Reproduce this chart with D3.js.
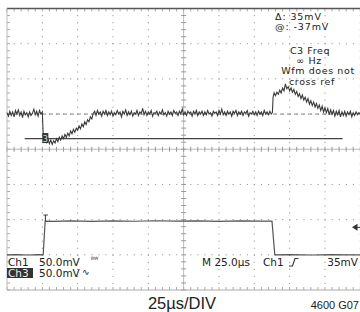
<!DOCTYPE html>
<html>
<head>
<meta charset="utf-8">
<script src="https://cdn.jsdelivr.net/npm/d3@7"></script>
<style>
  body { margin: 0; background: #fff; }
  svg { display: block; }
  .scope { font-family: "DejaVu Sans", sans-serif; font-size: 10.5px; fill: #222; }
  .caption { font-family: "Liberation Sans Narrow", "Liberation Sans", sans-serif; fill: #222; }
</style>
</head>
<body>
<div id="chart"></div>
<script>
// time in µs (25µs/div, trigger at t=0), channel values in mV (50mV/div)
const timeDivs = [-25, 0, 25, 50, 75, 100, 125, 150, 175, 200, 225];
const voltDivs = [-4, -3, -2, -1, 0, 1, 2, 3, 4];

// Ch3: output voltage, AC coupled, drawn around its reference line
const ch3Trace = [
  [-25, 2], [-24, -3], [-23, 4], [-22, -2], [-21, 3], [-20, -4], [-19, 5], [-18, 0], [-17, 6],
  [-16, -2], [-15, 3], [-14, -5], [-13, 4], [-12, -1], [-11, 2], [-10, -4], [-9, 3], [-8, -2],
  [-7, 1], [-6, 7], [-5, -1], [-4, 4], [-3, -3], [-2, 5], [-1, 0], [0, 3],
  [0.6, -30], [1.3, -38], [2, -33], [3, -40], [4, -35], [5, -42], [6, -37], [7, -43], [8, -38],
  [9, -41], [10, -35], [11, -39], [12, -33], [13, -37], [14, -31], [15, -35], [16, -29], [17, -33],
  [18, -27], [19, -31], [20, -24], [21, -28], [22, -22], [23, -26], [24, -20], [25, -23], [26, -17],
  [27, -21], [28, -14], [29, -18], [30, -11], [31, -15], [32, -8], [33, -11], [34, -4], [35, -7],
  [36, 1], [37, 4], [38, -2], [39, 5], [40, 0], [41, 3], [42, -3], [43, 4], [44, 0], [45, 5],
  [46, -2], [47, 3], [48, -1], [49, 4], [50, -3], [51, 2], [52, -1], [53, 5], [54, 0], [55, 3],
  [56, -4], [57, 4], [58, 0], [59, 6], [60, -2], [61, 3], [62, -1], [63, 4], [64, -3], [65, 2],
  [66, 0], [67, 5], [68, -2], [69, 3], [70, 1], [71, 8], [72, -1], [73, 4], [74, -2], [75, 3],
  [76, 0], [77, 5], [78, -3], [79, 2], [80, 1], [81, 4], [82, -2], [83, 3], [84, 0], [85, 6],
  [86, -1], [87, 2], [88, -3], [89, 4], [90, 0], [91, 3], [92, -2], [93, 5], [94, 1], [95, 3],
  [96, -2], [97, 4], [98, 0], [99, 7], [100, -1], [101, 3], [102, -2], [103, 4], [104, 1], [105, 3],
  [106, -3], [107, 4], [108, 0], [109, 5], [110, -2], [111, 3], [112, 0], [113, 4], [114, -2],
  [115, 3], [116, -1], [117, 5], [118, 0], [119, 2], [120, -3], [121, 4], [122, 1], [123, 3],
  [124, -2], [125, 5], [126, 0], [127, 7], [128, -1], [129, 3], [130, -2], [131, 4], [132, 0],
  [133, 3], [134, -3], [135, 4], [136, 1], [137, 5], [138, -2], [139, 3], [140, 0], [141, 4],
  [142, -2], [143, 3], [144, 1], [145, 5], [146, -3], [147, 2], [148, 0], [149, 4], [150, -1],
  [151, 3], [152, -2], [153, 4], [154, 0], [155, 3], [156, -2], [157, 5], [158, 0], [159, 3],
  [160, -1], [161, 4], [162, 0], [162.8, 2],
  [163.3, 24], [164, 30], [165, 26], [166, 31], [167, 28], [168, 34], [169, 30], [170, 37],
  [171, 33], [172, 43], [173, 36], [174, 39], [175, 33], [176, 37], [177, 31], [178, 35],
  [179, 28], [180, 32], [181, 25], [182, 29], [183, 22], [184, 27], [185, 20], [186, 24],
  [187, 17], [188, 22], [189, 14], [190, 19], [191, 12], [192, 17], [193, 10], [194, 15],
  [195, 8], [196, 13], [197, 5], [198, 11], [199, 3], [200, 9], [201, 2], [202, 8], [203, -1],
  [204, 6], [205, 0], [206, 5], [207, -3], [208, 4], [209, -1], [210, 5], [211, -4], [212, 3],
  [213, -2], [214, 4], [215, -3], [216, 3], [217, -1], [218, 4], [219, -4], [220, 2], [221, -2],
  [222, 3], [223, -1], [224, 2], [225, 0]
];

// Ch1: load step, DC coupled
const ch1Trace = [
  [-25, 0], [-18, 0.4], [-10, -0.3], [-3, 0.3], [0.6, 0], [2, 48], [8, 47.4], [20, 48.3],
  [35, 47.6], [50, 48.2], [65, 47.7], [80, 48.4], [95, 47.8], [110, 48.3], [125, 47.6],
  [140, 48.2], [155, 47.8], [162.5, 48], [164.5, 0], [175, 0.3], [190, -0.3], [205, 0.4],
  [215, -0.2], [225, 0]
];

const ch3Pos = 1, ch1Pos = -3, mvPerDiv = 50;
const cursorLevel = -35;          // mV on Ch3
const cursorSpan = [-12.5, 212.5]; // µs
const trigArrowLevel = 39;        // mV on Ch1

const readoutTop = ['\u0394: 35mV', '@: -37mV'];
const measLines = ['C3 Freq', '\u221E Hz', 'Wfm does not', 'cross ref'];
const measX = [310, 309, 318, 312];

const W = 360, H = 312;
const svg = d3.select('#chart').append('svg')
  .attr('width', W).attr('height', H);

const x = d3.scaleLinear().domain([-25, 225]).range([7, 360.3]);
const y = d3.scaleLinear().domain([-4, 4]).range([290, 8.5]);
const y3 = v => y(ch3Pos + v / mvPerDiv);
const y1 = v => y(ch1Pos + v / mvPerDiv);

let grid = svg.append('g');

// dotted graticule
grid.selectAll('line.vg').data(timeDivs.filter(d => d !== 100 && d !== -25))
  .join('line').attr('class', 'vg')
  .attr('x1', d => x(d)).attr('x2', d => x(d))
  .attr('y1', y(4)).attr('y2', y(-4))
  .attr('stroke', '#999').attr('stroke-width', 1)
  .attr('stroke-dasharray', '1.2,5.85').attr('stroke-dashoffset', -6.5);

grid.selectAll('line.hg').data(voltDivs.filter(d => d !== 0 && d !== 4 && d !== -4))
  .join('line').attr('class', 'hg')
  .attr('x1', x(-25)).attr('x2', x(225))
  .attr('y1', d => y(d)).attr('y2', d => y(d))
  .attr('stroke', '#999').attr('stroke-width', 1)
  .attr('stroke-dasharray', '1.2,5.87').attr('stroke-dashoffset', -6.5);

// centre axes with minor ticks
grid.append('line')
  .attr('x1', x(-25)).attr('x2', x(225)).attr('y1', y(0)).attr('y2', y(0))
  .attr('stroke', '#bbb');
grid.append('line')
  .attr('x1', x(100)).attr('x2', x(100)).attr('y1', y(4)).attr('y2', y(-4))
  .attr('stroke', '#bbb');

const minorT = d3.range(-25, 225.1, 5);
const minorV = d3.range(-4, 4.01, 0.2);

grid.selectAll('line.mt').data(minorT)
  .join('line').attr('class', 'mt')
  .attr('x1', d => x(d)).attr('x2', d => x(d))
  .attr('y1', y(0) - 2.5).attr('y2', y(0) + 2.5)
  .attr('stroke', '#999');
grid.selectAll('line.mv').data(minorV)
  .join('line').attr('class', 'mv')
  .attr('x1', x(100) - 2.5).attr('x2', x(100) + 2.5)
  .attr('y1', d => y(d)).attr('y2', d => y(d))
  .attr('stroke', '#999');

// border ticks
grid.selectAll('line.bt').data(minorT)
  .join('line').attr('class', 'bt')
  .attr('x1', d => x(d)).attr('x2', d => x(d))
  .attr('y1', y(-4) - 3).attr('y2', y(-4))
  .attr('stroke', '#aaa');
grid.selectAll('line.tt').data(minorT)
  .join('line').attr('class', 'tt')
  .attr('x1', d => x(d)).attr('x2', d => x(d))
  .attr('y1', y(4)).attr('y2', y(4) + 3)
  .attr('stroke', '#aaa');
grid.selectAll('line.lt').data(minorV)
  .join('line').attr('class', 'lt')
  .attr('x1', x(-25)).attr('x2', x(-25) + 3)
  .attr('y1', d => y(d)).attr('y2', d => y(d))
  .attr('stroke', '#aaa');

// frame
grid.append('line')
  .attr('x1', x(-25)).attr('x2', W).attr('y1', y(4)).attr('y2', y(4))
  .attr('stroke', '#555').attr('stroke-width', 1.5);
grid.append('line')
  .attr('x1', x(-25)).attr('x2', W).attr('y1', y(-4)).attr('y2', y(-4))
  .attr('stroke', '#aaa');
grid.append('line')
  .attr('x1', x(-25)).attr('x2', x(-25)).attr('y1', y(4)).attr('y2', y(-4))
  .attr('stroke', '#bbb');

// Ch3 reference line
grid.append('line')
  .attr('x1', x(-25)).attr('x2', x(225)).attr('y1', y3(0)).attr('y2', y3(0))
  .attr('stroke', '#888').attr('stroke-dasharray', '4,3');

let plot = svg.append('g');

// cursor
plot.append('line')
  .attr('x1', x(cursorSpan[0])).attr('x2', x(cursorSpan[1]))
  .attr('y1', y3(cursorLevel)).attr('y2', y3(cursorLevel))
  .attr('stroke', '#444').attr('stroke-width', 1.2);

const line3 = d3.line().x(d => x(d[0])).y(d => y3(d[1]));
const line1 = d3.line().x(d => x(d[0])).y(d => y1(d[1]));

plot.append('path').datum(ch3Trace)
  .attr('d', line3).attr('fill', 'none')
  .attr('stroke', '#3a3a3a').attr('stroke-width', 1.1);

plot.append('path').datum(ch1Trace)
  .attr('d', line1).attr('fill', 'none')
  .attr('stroke', '#555').attr('stroke-width', 1.2);

// Ch3 marker box
plot.append('rect')
  .attr('x', x(0)).attr('y', y3(-27)).attr('width', 6).attr('height', 10)
  .attr('fill', '#333');
plot.append('text')
  .attr('x', x(0) + 3).attr('y', y3(-27) + 8.5)
  .attr('text-anchor', 'middle').attr('fill', '#ddd')
  .style('font', '8px "DejaVu Sans", sans-serif').text('3');

// trigger "T" marker on Ch1 edge
const tx = x(2.2), ty = y1(48);
plot.append('path')
  .attr('d', `M${tx - 2},${ty - 6}H${tx + 2.5}M${tx},${ty - 6}V${ty}`)
  .attr('stroke', '#444').attr('stroke-width', 1.1).attr('fill', 'none');

// trigger level arrow on right
const ay = y1(trigArrowLevel);
plot.append('path')
  .attr('d', `M352,${ay}L357.5,${ay - 3.5}V${ay + 3.5}Z`)
  .attr('fill', '#333');
plot.append('line')
  .attr('x1', 357).attr('x2', 360).attr('y1', ay).attr('y2', ay)
  .attr('stroke', '#333');

// readouts
let txt = svg.append('g').attr('class', 'scope');

txt.selectAll('text.ro').data(readoutTop)
  .join('text').attr('class', 'ro')
  .attr('x', 275).attr('y', (d, i) => 19.5 + i * 10.5)
  .style('font-size', '9.5px')
  .style('letter-spacing', '0.9px')
  .text(d => d);

txt.selectAll('text.meas').data(measLines)
  .join('text').attr('class', 'meas')
  .attr('x', (d, i) => measX[i]).attr('y', (d, i) => 53.5 + i * 10.4)
  .attr('text-anchor', 'middle')
  .style('font-size', '9.5px')
  .style('letter-spacing', '0.6px')
  .text(d => d);

txt.append('text').attr('x', 8).attr('y', 265.5).text('Ch1');
txt.append('text').attr('x', 39).attr('y', 265.5).text('50.0mV');
txt.append('text').attr('x', 91).attr('y', 262).style('font-size', '7px').text('\u1D2E\u1D42');

txt.append('rect').attr('x', 7).attr('y', 268).attr('width', 26).attr('height', 10)
  .attr('fill', '#333');
txt.append('text').attr('x', 8).attr('y', 277).attr('fill', '#eee').text('Ch3');
txt.append('text').attr('x', 39).attr('y', 277).text('50.0mV');
txt.append('text').attr('x', 82).attr('y', 275).style('font-size', '9px').text('\u223F');

txt.append('text').attr('x', 202).attr('y', 266).text('M 25.0\u00B5s');
txt.append('text').attr('x', 263).attr('y', 266).text('Ch1');
txt.append('path')
  .attr('d', 'M289,266H292.5L295,258.5H298.5')
  .attr('stroke', '#333').attr('stroke-width', 1.1).attr('fill', 'none');
txt.append('text').attr('x', 358).attr('y', 266).attr('text-anchor', 'end').text('35mV');

// captions under the screen
svg.append('text').attr('class', 'caption')
  .attr('x', 182).attr('y', 309).attr('text-anchor', 'middle')
  .style('font-size', '16.5px')
  .text('25\u00B5s/DIV');
svg.append('text').attr('class', 'caption')
  .attr('x', 359).attr('y', 309).attr('text-anchor', 'end')
  .style('font-size', '11px')
  .text('4600 G07');
</script>
</body>
</html>
